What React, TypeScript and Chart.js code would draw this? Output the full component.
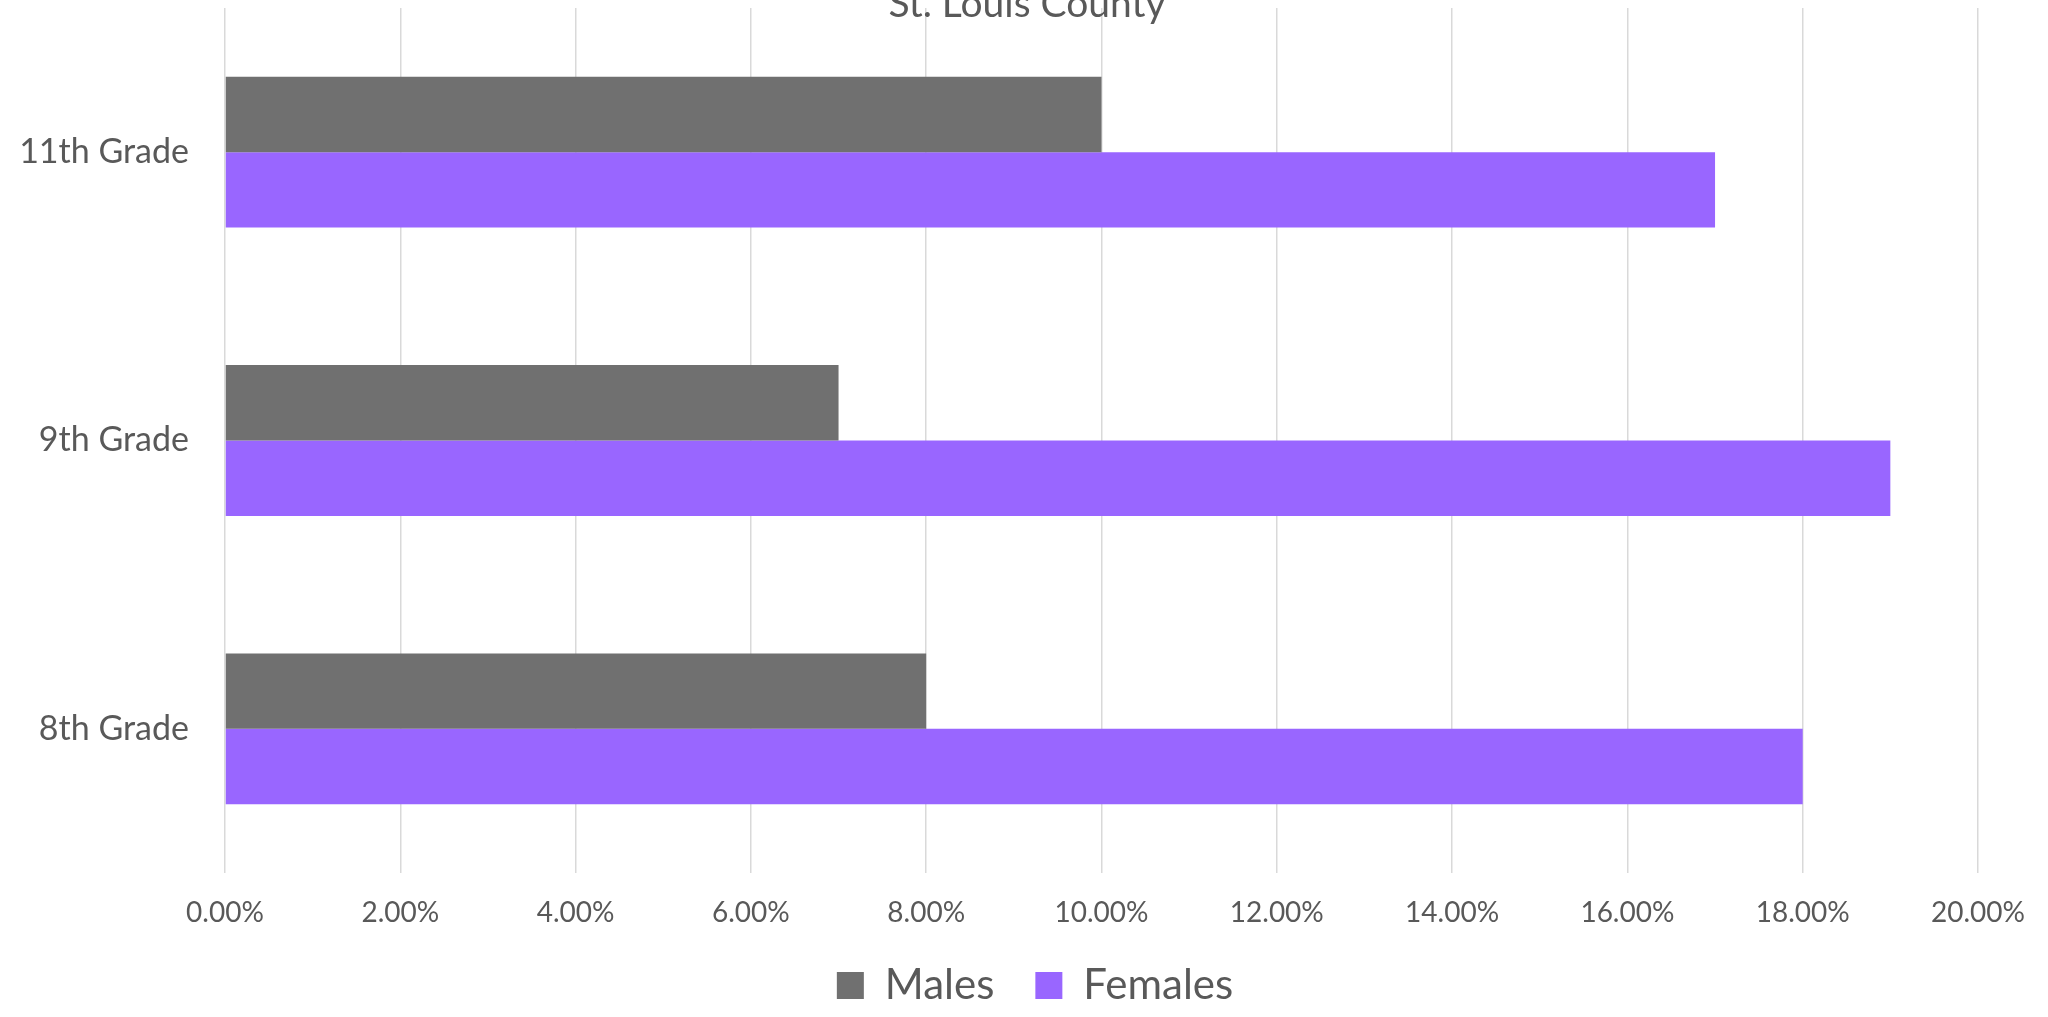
import React, { useEffect, useRef } from 'react';
import { Chart, registerables } from 'chart.js';

Chart.register(...registerables);

const chartTitle = 'St. Louis County';
const categories = ['11th Grade', '9th Grade', '8th Grade'];
const seriesNames = ['Males', 'Females'];
const malesValues = [10, 7, 8];
const femalesValues = [17, 19, 18];
const xTickMin = 0;
const xTickMax = 20;
const xTickStep = 2;

const FONT = 'Lato, "Open Sans", sans-serif';
const TEXT = '#595959';

export default function App() {
  const ref = useRef<HTMLCanvasElement>(null);

  useEffect(() => {
    document.body.style.margin = '0';
    const canvas = ref.current;
    if (!canvas) return;

    const titlePlugin = {
      id: 'cutTitle',
      afterLayout(chart: any) {
        const lg = chart.legend;
        if (lg) {
          lg.left += 45.5;
          lg.right += 45.5;
        }
      },
      afterDraw(chart: any) {
        const ctx = chart.ctx;
        ctx.save();
        ctx.font = `39px ${FONT}`;
        ctx.fillStyle = TEXT;
        ctx.textAlign = 'center';
        ctx.textBaseline = 'alphabetic';
        ctx.fillText(chartTitle, chart.width / 2 + 3, 17);
        ctx.restore();
      },
    };

    const chart = new Chart(canvas, {
      type: 'bar',
      data: {
        labels: categories,
        datasets: [
          {
            label: seriesNames[0],
            data: malesValues,
            backgroundColor: '#707070',
            borderWidth: 0,
            barPercentage: 1,
            categoryPercentage: 0.523,
          },
          {
            label: seriesNames[1],
            data: femalesValues,
            backgroundColor: '#9966ff',
            borderWidth: 0,
            barPercentage: 1,
            categoryPercentage: 0.523,
          },
        ],
      },
      options: {
        indexAxis: 'y',
        responsive: false,
        animation: false,
        devicePixelRatio: 1,
        layout: { padding: { left: 0, right: 69, top: 8, bottom: 0.5 } },
        scales: {
          x: {
            type: 'linear',
            min: xTickMin,
            max: xTickMax,
            afterFit: (s: any) => {
              s.height = 50.5;
            },
            ticks: {
              stepSize: xTickStep,
              padding: 23,
              color: TEXT,
              font: { family: FONT, size: 28 },
              callback: (v: any) => Number(v).toFixed(2) + '%',
            },
            grid: { color: '#d9d9d9', lineWidth: 1.5, drawTicks: false },
            border: { display: false },
          },
          y: {
            type: 'category',
            afterFit: (s: any) => {
              s.width = 225;
              s.paddingTop = 0;
              s.paddingBottom = 0;
            },
            ticks: {
              padding: 36,
              color: TEXT,
              font: { family: FONT, size: 34 },
            },
            grid: { display: false, drawTicks: false },
            border: { display: false },
          },
        },
        plugins: {
          legend: {
            position: 'bottom',
            labels: {
              boxWidth: 27,
              boxHeight: 27,
              padding: 41,
              color: TEXT,
              font: { family: FONT, size: 42 },
            },
          },
          tooltip: { enabled: false },
          title: { display: false },
        },
      },
      plugins: [titlePlugin],
    });

    return () => chart.destroy();
  }, []);

  return (
    <div style={{ width: 2048, height: 1017, position: 'relative' }}>
      <canvas ref={ref} width={2048} height={1017} />
    </div>
  );
}
